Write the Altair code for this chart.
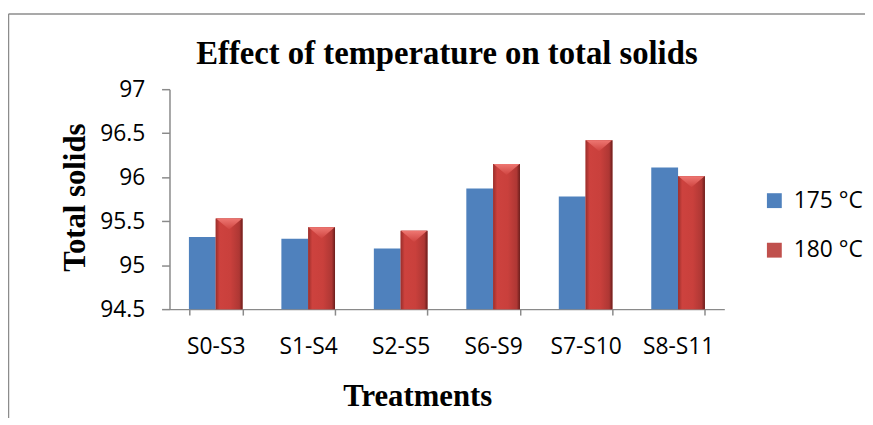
import altair as alt
import pandas as pd

treatments = ["S0-S3", "S1-S4", "S2-S5", "S6-S9", "S7-S10", "S8-S11"]
series = ["175 °C", "180 °C"]
vals_175 = [95.32, 95.30, 95.19, 95.87, 95.78, 96.11]
vals_180 = [95.53, 95.43, 95.39, 96.15, 96.42, 96.01]
y_ticks = [94.5, 95, 95.5, 96, 96.5, 97]

rows = []
for t, a, b in zip(treatments, vals_175, vals_180):
    rows.append({"Treatment": t, "Series": series[0], "Value": a})
    rows.append({"Treatment": t, "Series": series[1], "Value": b})
df = pd.DataFrame(rows)

W, H = 560, 222
AXIS_GRAY = "#8a8a8a"

x_enc = alt.X("Treatment:N", sort=treatments,
              scale=alt.Scale(paddingInner=0.42, paddingOuter=0.21),
              axis=alt.Axis(title="Treatments", labelAngle=0, tickBand="extent",
                            labelFont="Open Sans", labelFontSize=23, labelColor="#000",
                            labelPadding=21, tickSize=6, tickColor=AXIS_GRAY,
                            domainColor=AXIS_GRAY, domainWidth=1.5, tickWidth=1.5,
                            titleFont="Liberation Serif", titleFontSize=31,
                            titleFontWeight="bold", titleColor="#000",
                            titleX=250, titleY=88, titleBaseline="middle",
                            titleAlign="center"))
y_enc = alt.Y("Value:Q",
              scale=alt.Scale(domain=[94.5, 97], zero=False, nice=False),
              axis=alt.Axis(title="Total solids", values=y_ticks, format=".1~f",
                            grid=False, labelFont="Open Sans", labelFontSize=23,
                            labelColor="#000", labelPadding=17, tickSize=8,
                            tickColor=AXIS_GRAY, domainColor=AXIS_GRAY,
                            domainWidth=1.5, tickWidth=1.5,
                            titleFont="Liberation Serif", titleFontSize=31,
                            titleFontWeight="bold", titleColor="#000",
                            titleAngle=270, titleX=-95, titleY=109,
                            titleBaseline="middle", titleAlign="center"))
xoff = alt.XOffset("Series:N", scale=alt.Scale(domain=series, paddingInner=0))

bars = alt.Chart(df).mark_bar(strokeWidth=0).encode(
    x=x_enc, y=y_enc, y2=alt.datum(94.5), xOffset=xoff,
    color=alt.Color("Series:N",
                    scale=alt.Scale(domain=series, range=["#4F81BD", "#C0504D"]),
                    legend=alt.Legend(title=None, orient="none", legendX=599,
                                      legendY=101, symbolType="square",
                                      symbolSize=225, symbolStrokeWidth=0,
                                      labelFont="Open Sans", labelFontSize=23,
                                      labelColor="#000", labelOffset=8,
                                      rowPadding=26, padding=0)),
)

red_grad = alt.Gradient(
    gradient="linear", x1=0, x2=1, y1=0, y2=0,
    stops=[alt.GradientStop(offset=0, color="#9A2E2B"),
           alt.GradientStop(offset=0.15, color="#CD423E"),
           alt.GradientStop(offset=0.55, color="#C9403C"),
           alt.GradientStop(offset=0.88, color="#AE3734"),
           alt.GradientStop(offset=1, color="#6A1D1B")])

red_only = alt.Chart(df).transform_filter(alt.datum.Series == series[1])

red_bars = red_only.mark_bar(fill=red_grad, strokeWidth=0).encode(
    x=alt.X("Treatment:N", sort=treatments), y=alt.Y("Value:Q"),
    y2=alt.datum(94.5), xOffset=xoff,
)

# lighter bevel triangle at the top of each red bar
tri_grad = alt.Gradient(
    gradient="linear", x1=0, x2=0, y1=0, y2=1,
    stops=[alt.GradientStop(offset=0, color="#EE7772"),
           alt.GradientStop(offset=1, color="#CF4440")])
red_caps = red_only.mark_point(
    shape="M-1,0L1,0L0,0.85Z", filled=True, fill=tri_grad, opacity=1,
    strokeWidth=0, size=690,
).encode(
    x=alt.X("Treatment:N", sort=treatments), y=alt.Y("Value:Q"), xOffset=xoff,
)

frame = alt.Chart(alt.Data(values=[{}]))
top_line = frame.mark_rule(color="#8c8c8c", strokeWidth=1.5).encode(
    x=alt.value(-162.5), x2=alt.value(702), y=alt.value(-76))
left_line = frame.mark_rule(color="#8c8c8c", strokeWidth=1.5).encode(
    x=alt.value(-162.5), y=alt.value(-76), y2=alt.value(332))

chart = alt.layer(top_line, left_line, bars, red_bars, red_caps).properties(
    width=W, height=H, background="white",
    title=alt.TitleParams("Effect of  temperature on total solids",
                          font="Liberation Serif", fontSize=33,
                          fontWeight="bold", color="#000", anchor="middle",
                          offset=0, dy=58),
    autosize=alt.AutoSizeParams(type="none"),
    padding={"left": 163, "top": 80, "right": 142, "bottom": 115},
).configure_view(stroke=None, strokeWidth=0)

chart.save("out.html", embed_options={"renderer": "svg", "actions": False})
